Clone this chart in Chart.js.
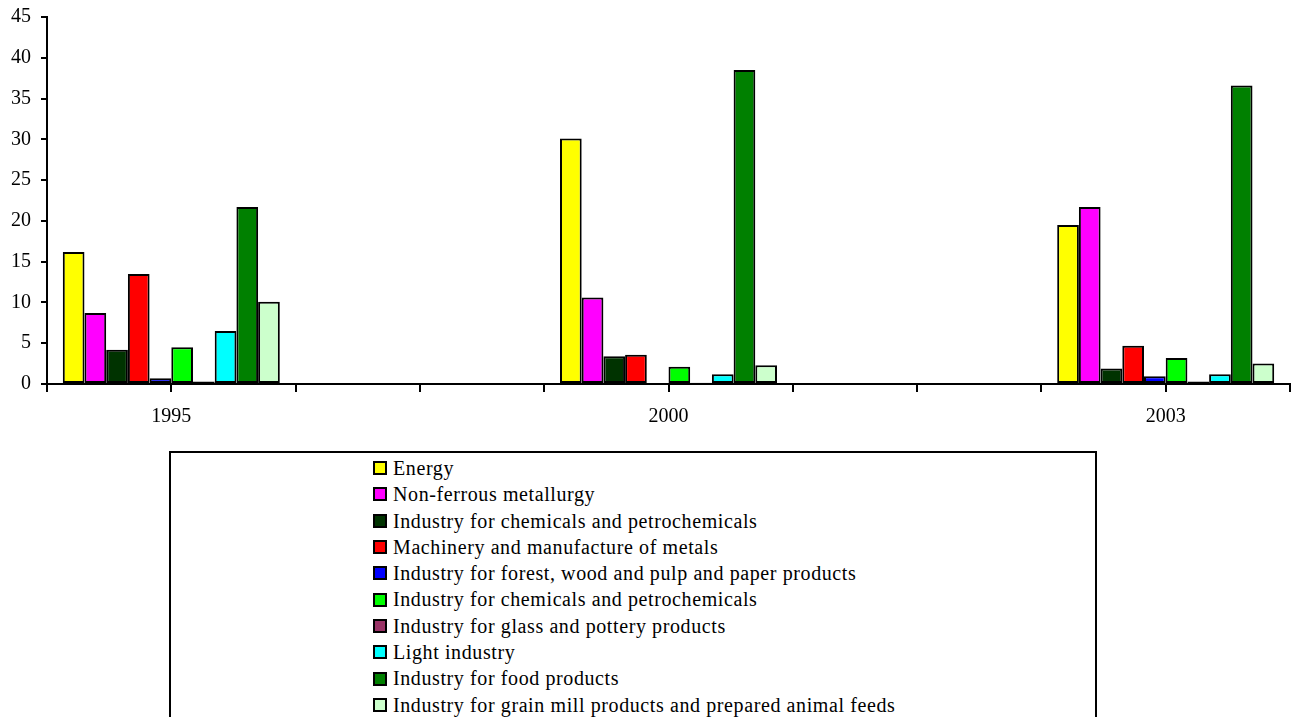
<!DOCTYPE html>
<html>
<head>
<meta charset="utf-8">
<script src="https://cdn.jsdelivr.net/npm/chart.js@4.4.0/dist/chart.umd.min.js"></script>
<style>
  html, body { margin: 0; padding: 0; background: #fff; width: 1294px; height: 717px; overflow: hidden; }
  #wrap { position: absolute; left: 0; top: 0; width: 1294px; height: 440px; }
  #legend { position: absolute; left: 169px; top: 451px; width: 924px; height: 300px; border: 2px solid #000;
            font-family: 'Liberation Serif', serif; font-size: 20px; letter-spacing: 0.6px; color: #000; }
  #legend ul { list-style: none; margin: 0; padding: 2px 0 0 202px; }
  #legend li { height: 26.3px; line-height: 26.3px; white-space: nowrap; display: flex; align-items: center; }
  #legend .sw { display: inline-block; width: 10px; height: 10px; border: 2px solid #000; margin-right: 6px; }
</style>
</head>
<body>
<div id="wrap"><canvas id="c"></canvas></div>
<div id="legend"><ul id="legendList"></ul></div>
<script>
// ---- data ----
const years = ['1995', '2000', '2003'];
const seriesNames = [
  'Energy',
  'Non-ferrous metallurgy',
  'Industry for chemicals and petrochemicals',
  'Machinery and manufacture of metals',
  'Industry for forest, wood and pulp and paper products',
  'Industry for chemicals and petrochemicals',
  'Industry for glass and pottery products',
  'Light industry',
  'Industry for food products',
  'Industry for grain mill products and prepared animal feeds'
];
const energy        = [16.2, 30.1, 19.5];
const nonFerrous    = [8.7, 10.6, 21.7];
const chemicals1    = [4.2, 3.4, 1.9];
const machinery     = [13.5, 3.6, 4.7];
const forest        = [0.7, 0, 0.95];
const chemicals2    = [4.5, 2.1, 3.2];
const glass         = [0.3, 0.15, 0.3];
const light         = [6.5, 1.2, 1.2];
const food          = [21.7, 38.5, 36.6];
const grain         = [10.1, 2.3, 2.5];
const yTicks = [0, 5, 10, 15, 20, 25, 30, 35, 40, 45];

const seriesValues = [energy, nonFerrous, chemicals1, machinery, forest, chemicals2, glass, light, food, grain];
const colors = ['#FFFF00', '#FF00FF', '#003300', '#FF0000', '#0000FF', '#00FF00', '#993366', '#00FFFF', '#008000', '#CCFFCC'];

// category slots: each year followed by an empty slot
const labels = [];
years.forEach((y, i) => { labels.push(y); if (i < years.length - 1) labels.push(''); });
function expand(vals) {
  const out = [];
  vals.forEach((v, i) => { out.push(v); if (i < vals.length - 1) out.push(null); });
  return out;
}

const datasets = seriesNames.map((name, i) => ({
  label: name,
  data: expand(seriesValues[i]),
  backgroundColor: colors[i],
  borderColor: '#000',
  borderWidth: 2,
  borderSkipped: false,
  categoryPercentage: 0.873,
  barPercentage: 1.0
}));

// legend (HTML, generated from the data arrays)
const ul = document.getElementById('legendList');
seriesNames.forEach((name, i) => {
  const li = document.createElement('li');
  const sw = document.createElement('span');
  sw.className = 'sw';
  sw.style.background = colors[i];
  li.appendChild(sw);
  li.appendChild(document.createTextNode(name));
  ul.appendChild(li);
});

const centerTicks = {
  id: 'centerTicks',
  afterDraw(chart) {
    const xs = chart.scales.x;
    const ctx = chart.ctx;
    ctx.save();
    ctx.strokeStyle = '#000';
    ctx.lineWidth = 2;
    for (let i = 0; i < xs.ticks.length; i++) {
      const px = Math.round(xs.getPixelForTick(i));
      ctx.beginPath();
      ctx.moveTo(px, xs.top);
      ctx.lineTo(px, xs.top + 8);
      ctx.stroke();
    }
    ctx.restore();
  }
};

Chart.defaults.font.family = "'Liberation Serif', serif";
Chart.defaults.font.size = 20;
Chart.defaults.color = '#000';

new Chart(document.getElementById('c'), {
  type: 'bar',
  data: { labels, datasets },
  options: {
    responsive: true,
    maintainAspectRatio: false,
    animation: false,
    layout: { padding: { left: 0, right: 4, top: 17, bottom: 0 } },
    plugins: { legend: { display: false }, tooltip: { enabled: false } },
    scales: {
      x: {
        grid: { drawOnChartArea: false, color: '#000', lineWidth: 2, tickLength: 8, offset: true },
        border: { color: '#000', width: 2 },
        ticks: { padding: 13, maxRotation: 0, autoSkip: false },
        afterFit(s) { s.height = 56; s.paddingLeft = 0; s.paddingRight = 0; }
      },
      y: {
        min: 0, max: 45,
        afterBuildTicks(s) { s.ticks = yTicks.map(v => ({ value: v })); },
        grid: { drawOnChartArea: false, color: '#000', lineWidth: 2, tickLength: 6 },
        border: { color: '#000', width: 2 },
        ticks: { padding: 10 },
        afterFit(s) { s.width = 47; s.paddingTop = 0; s.paddingBottom = 0; }
      }
    }
  },
  plugins: [centerTicks]
});
</script>
</body>
</html>
